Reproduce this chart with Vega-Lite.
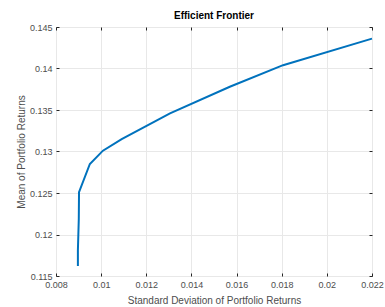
{
  "$schema": "https://vega.github.io/schema/vega-lite/v6.json",
  "autosize": "none",
  "padding": {"left": 56, "top": 27, "right": 13, "bottom": 31},
  "width": 316,
  "height": 249,
  "background": "white",
  "title": {"text": "Efficient Frontier", "fontSize": 10, "fontWeight": "bold", "font": "Liberation Sans", "color": "#000000", "offset": 2},
  "data": {"values": [
    {"sd": 0.00897, "mean": 0.1162},
    {"sd": 0.00897, "mean": 0.1181},
    {"sd": 0.00901, "mean": 0.1219},
    {"sd": 0.00902, "mean": 0.1251},
    {"sd": 0.0095, "mean": 0.1285},
    {"sd": 0.01008, "mean": 0.1301},
    {"sd": 0.01091, "mean": 0.1315},
    {"sd": 0.01305, "mean": 0.1346},
    {"sd": 0.0157, "mean": 0.1378},
    {"sd": 0.01806, "mean": 0.1404},
    {"sd": 0.022, "mean": 0.1436}
  ]},
  "config": {
    "view": {"stroke": "#262626", "strokeWidth": 1},
    "axis": {"labelFont": "Liberation Sans", "titleFont": "Liberation Sans", "labelFontSize": 9, "titleFontSize": 10, "labelColor": "#4d4d4d", "titleColor": "#4d4d4d", "titleFontWeight": "normal", "gridColor": "#e8e8e8", "domain": false, "tickColor": "#262626", "tickSize": -3}
  },
  "layer": [
    {
      "mark": {"type": "line", "color": "#0072BD", "strokeWidth": 2},
      "encoding": {
        "x": {"field": "sd", "type": "quantitative", "scale": {"domain": [0.008, 0.022], "nice": false, "zero": false},
          "axis": {"values": [0.008, 0.01, 0.012, 0.014, 0.016, 0.018, 0.02, 0.022], "format": "~g", "title": "Standard Deviation of Portfolio Returns", "labelPadding": 7, "titlePadding": 6, "labelFlush": false}},
        "y": {"field": "mean", "type": "quantitative", "scale": {"domain": [0.115, 0.145], "nice": false, "zero": false},
          "axis": {"values": [0.115, 0.12, 0.125, 0.13, 0.135, 0.14, 0.145], "format": "~g", "title": "Mean of Portfolio Returns", "labelPadding": 7, "titlePadding": 3, "labelFlush": false}}
      }
    },
    {
      "mark": {"type": "line", "opacity": 0},
      "encoding": {
        "x": {"field": "sd", "type": "quantitative", "scale": {"domain": [0.008, 0.022], "nice": false, "zero": false},
          "axis": {"orient": "top", "values": [0.008, 0.01, 0.012, 0.014, 0.016, 0.018, 0.02, 0.022], "labels": false, "title": null, "grid": false}},
        "y": {"field": "mean", "type": "quantitative", "scale": {"domain": [0.115, 0.145], "nice": false, "zero": false},
          "axis": {"orient": "right", "values": [0.115, 0.12, 0.125, 0.13, 0.135, 0.14, 0.145], "labels": false, "title": null, "grid": false}}
      }
    }
  ],
  "resolve": {"axis": {"x": "independent", "y": "independent"}}
}
